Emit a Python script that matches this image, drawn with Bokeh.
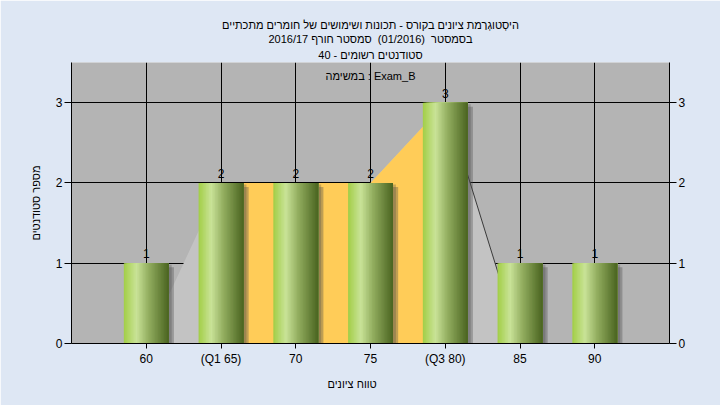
import numpy as np
from bokeh.plotting import figure
from bokeh.models import (Range1d, FixedTicker, LinearAxis, Label, ColumnDataSource, Title)
from bokeh.transform import dodge
from bokeh.core.properties import value
from bokeh.embed import file_html
from bokeh.resources import INLINE

# ---- data ----
grades = [60, 65, 70, 75, 80, 85, 90]
tick_labels = ["60", "(Q1 65)", "70", "75", "(Q3 80)", "85", "90"]
counts = [1, 2, 2, 2, 3, 1, 1]
area_values = [0, 2, 2, 2, 3, 0, 0]
q1_grade = 65
q3_grade = 80
y_ticks = [0, 1, 2, 3]

title_lines = [
    "היסְטוגְרַמת ציונים בקורס - תכונות ושימושים של חומרים מתכתיים",
    "בסמסטר \u00a0(01/2016) \u00a0סמסטר חורף 2016/17",
    "סטודנטים רשומים - 40",
]
x_title = "טווח ציונים"
y_title = "מספר סטודנטים"
series_note = "במשימה : Exam_B"

FONT = "Liberation Sans"
HEB_SIZE = "11px"

p = figure(width=720, height=405, output_backend="svg", toolbar_location=None,
           x_range=Range1d(55, 95), y_range=Range1d(0, 3.5),
           min_border_left=71, min_border_right=51, min_border_top=62,
           min_border_bottom=62)
p.background_fill_color = "#B4B4B4"
p.border_fill_color = "#DEE7F4"
p.outline_line_color = None


def style_title(t, standoff):
    t.align = "center"
    t.text_font = FONT
    t.text_font_size = HEB_SIZE
    t.text_font_style = "normal"
    t.text_color = "#000000"
    t.standoff = standoff


p.title.text = title_lines[0]
style_title(p.title, 0)
t3 = Title(text=title_lines[2])
style_title(t3, 4)
p.add_layout(t3, "above")
t2 = Title(text=title_lines[1])
style_title(t2, 0)
p.add_layout(t2, "above")

# grids
p.xgrid.ticker = FixedTicker(ticks=grades)
p.ygrid.ticker = FixedTicker(ticks=y_ticks)
for g in (p.xgrid, p.ygrid):
    g.grid_line_color = "#000000"
    g.grid_line_width = 1
    g.grid_line_alpha = 1

# axes
xa = p.xaxis[0]
xa.ticker = FixedTicker(ticks=grades)
xa.major_label_overrides = {g: t for g, t in zip(grades, tick_labels)}
xa.axis_label = x_title + "\u00a0" * 12
ya = p.yaxis[0]
ya.ticker = FixedTicker(ticks=y_ticks)
ya.axis_label = y_title
ra = LinearAxis(ticker=FixedTicker(ticks=y_ticks))
p.add_layout(ra, "right")
for ax in (xa, ya, ra):
    ax.axis_line_color = "#000000"
    ax.major_tick_line_color = "#000000"
    ax.minor_tick_line_color = None
    ax.major_tick_in = 0
    ax.major_label_text_font = FONT
    ax.major_label_text_font_size = "12px"
    ax.major_label_text_color = "#000000"
    ax.axis_label_text_font = FONT
    ax.axis_label_text_font_size = HEB_SIZE
    ax.axis_label_text_font_style = "normal"
    ax.axis_label_text_color = "#000000"
xa.major_tick_out = 5
xa.major_label_standoff = 3
xa.axis_label_standoff = 9
ya.major_tick_out = 7
ya.major_label_standoff = 2
ya.axis_label_standoff = 11
ra.major_tick_out = 7
ra.major_label_standoff = 2

# area series
src_area = ColumnDataSource(dict(x=grades, y=area_values))
p.varea(x="x", y1=0, y2="y", source=src_area, fill_color="#C3C3C3")
mid = [i for i, g in enumerate(grades) if q1_grade <= g <= q3_grade]
src_q = ColumnDataSource(dict(x=[grades[i] for i in mid], y=[area_values[i] for i in mid]))
p.varea(x="x", y1=0, y2="y", source=src_q, fill_color="#FFCC58")
i3 = grades.index(q3_grade)
p.line(x=grades[i3:i3 + 2], y=area_values[i3:i3 + 2], line_color="#3a3a3a", line_width=1)

# bars
src = ColumnDataSource(dict(grade=grades, count=counts, lab=[str(c) for c in counts]))
bar_w = 3.0
# shadow
p.vbar(x=dodge("grade", 0.35), top=dodge("count", -0.05), bottom=-0.1, width=bar_w,
       source=src, fill_color="#4a4a4a", fill_alpha=0.35, line_color=None)
p.vbar(x=dodge("grade", 0.2), top=dodge("count", -0.02), bottom=-0.1, width=bar_w,
       source=src, fill_color="#4a4a4a", fill_alpha=0.3, line_color=None)

stops_pos = [0.0, 0.28, 0.55, 1.0]
stops_col = [(0xA2, 0xCE, 0x46), (0xC9, 0xE3, 0x98), (0x93, 0xAE, 0x60), (0x4A, 0x64, 0x20)]
n = 30
sw = bar_w / n
for k in range(n):
    t = (k + 0.5) / n
    col = []
    for c in range(3):
        col.append(int(round(np.interp(t, stops_pos, [s[c] for s in stops_col]))))
    hexcol = "#%02x%02x%02x" % tuple(col)
    wk = bar_w - k * sw
    off = -bar_w / 2 + k * sw + wk / 2
    p.vbar(x=dodge("grade", off), top="count", bottom=0, width=wk,
           source=src, fill_color=hexcol, line_color=None)

# value labels
p.text(x="grade", y="count", text="lab", source=src, text_align="center",
       text_baseline="bottom", y_offset=-5, text_font=value(FONT),
       text_font_size="12px", text_color="#000000")

# series note at top
p.add_layout(Label(x=75, y=3.5, text=series_note, text_align="center",
                   text_baseline="middle", y_offset=-13, text_font=FONT,
                   text_font_size=HEB_SIZE, text_color="#000000"))

open("out.html", "w").write(file_html(p, INLINE))
